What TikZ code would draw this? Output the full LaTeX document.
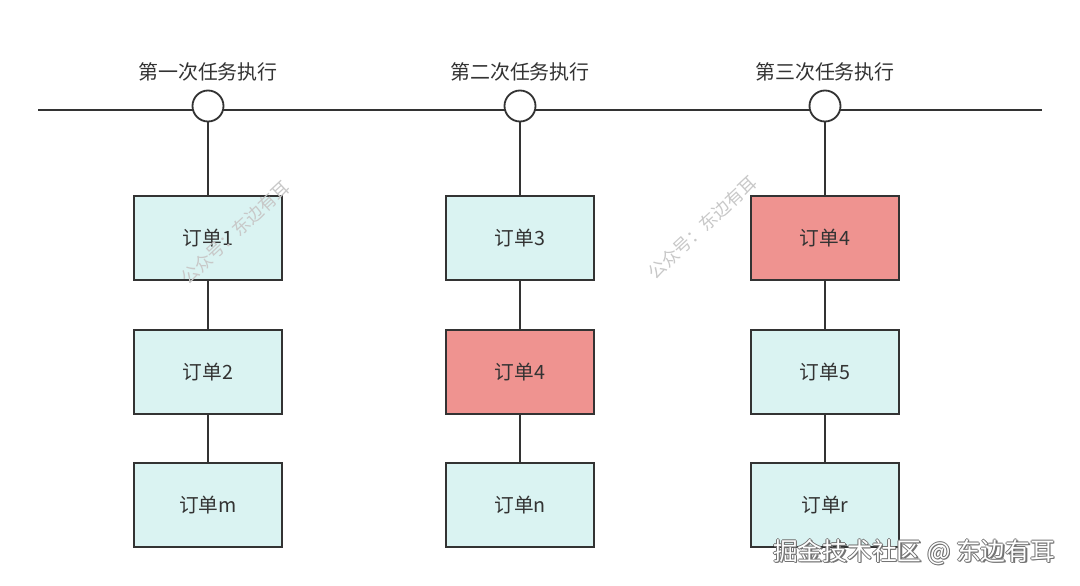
\documentclass[tikz,border=0pt]{standalone}
\usepackage{fontspec}
\setmainfont{Noto Sans CJK SC}
\newfontfamily\cjk{Noto Sans CJK SC}
\definecolor{boxcyan}{HTML}{DAF3F2}
\definecolor{boxred}{HTML}{EF9390}
\definecolor{edge}{HTML}{333333}
\definecolor{wm}{HTML}{C8C8C8}
\begin{document}
\begin{tikzpicture}[x=0.025cm,y=-0.025cm,
  order/.style={draw=edge,line width=1.4pt,fill=boxcyan,minimum width=148*0.025cm,minimum height=84*0.025cm,inner sep=0pt,font=\cjk\fontsize{14}{16}\selectfont,text=black!80},
  hot/.style={order,fill=boxred},
  tick/.style={draw=edge,line width=1.3pt,fill=white,circle,minimum size=31*0.025cm,inner sep=0pt},
  lbl/.style={font=\cjk\fontsize{14.2}{16}\selectfont,text=black!80},
  link/.style={draw=edge,line width=1.3pt},
  wmark/.style={font=\cjk\fontsize{12.5}{14}\selectfont,text=wm,rotate=43},
  foot/.style={font=\cjk\fontsize{17.6}{20}\selectfont,anchor=east}]
\useasboundingbox (0,0) rectangle (1080,586);
\fill[white] (0,0) rectangle (1080,586);
\coordinate (L) at (38,110);
\coordinate (R) at (1042,110);
\draw[link] (L) -- (R);
% columns
\node[tick] (t1) at (208,106) {};
\node[tick] (t2) at (520,106) {};
\node[tick] (t3) at (825,106) {};
\node[lbl] (l1) at (208,72) {第一次任务执行};
\node[lbl] (l2) at (520,72) {第二次任务执行};
\node[lbl] (l3) at (825,72) {第三次任务执行};
\node[order] (a1) at (208,238) {订单1};
\node[order] (a2) at (208,372) {订单2};
\node[order] (a3) at (208,505) {订单m};
\node[order] (b1) at (520,238) {订单3};
\node[hot]   (b2) at (520,372) {订单4};
\node[order] (b3) at (520,505) {订单n};
\node[hot]   (c1) at (825,238) {订单4};
\node[order] (c2) at (825,372) {订单5};
\node[order] (c3) at (825,505) {订单r};
\foreach \u/\v in {t1/a1,a1/a2,a2/a3,t2/b1,b1/b2,b2/b3,t3/c1,c1/c2,c2/c3}
  \draw[link] (\u) -- (\v);
% watermarks
\node[wmark] (w1) at (235,233) {公众号：东边有耳};
\node[wmark] (w2) at (702,228) {公众号：东边有耳};
% footer
\foreach \dx/\dy in {1/0,-1/0,0/1,0/-1,1.6/1.6}
  \node[foot,text=black!55] at (1060+\dx,552+\dy) {掘金技术社区 @ 东边有耳};
\node[foot,text=white] (ft) at (1060,552) {掘金技术社区 @ 东边有耳};
\end{tikzpicture}
\end{document}
